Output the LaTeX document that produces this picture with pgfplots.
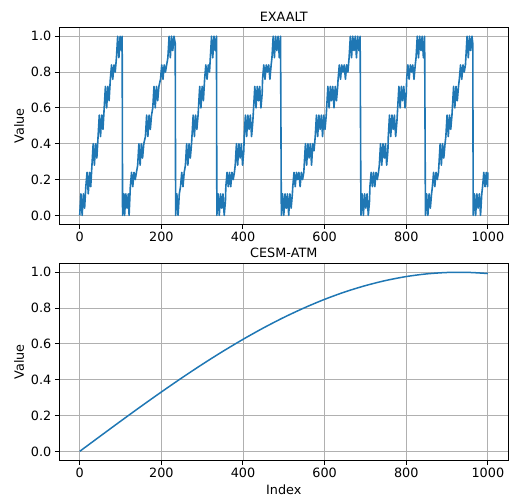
\documentclass[border=0pt]{standalone}
\usepackage{fontspec}
\setmainfont{DejaVu Sans}
\usepackage{pgfplots}
\pgfplotsset{compat=1.18}
\definecolor{mplblue}{HTML}{1F77B4}
\definecolor{gridgray}{HTML}{B0B0B0}
\newcommand{\fs}{\fontsize{12.8bp}{15bp}\selectfont}
\begin{document}
\begin{tikzpicture}
\pgfplotsset{
  panel/.style={
    width=449bp, height=197bp, scale only axis,
    xmin=-50, xmax=1050, ymin=-0.05, ymax=1.05,
    xtick={0,200,400,600,800,1000},
    ytick={0,0.2,0.4,0.6,0.8,1.0},
    xticklabel style={/pgf/number format/.cd,1000 sep={}},
    yticklabel style={/pgf/number format/.cd,fixed,fixed zerofill,precision=1},
    /pgf/number format/assume math mode=true,
    grid=major, grid style={color=gridgray, line width=0.8bp},
    tick align=outside, major tick length=4.5bp,
    xtick pos=lower, ytick pos=left,
    tick style={black, line width=1bp},
    axis line style={line width=1bp},
    ticklabel style={font=\fs},
    label style={font=\fs},
    every axis title shift=0pt,
    title style={font=\fs, at={(0.5,1)}, anchor=base, yshift=5.6bp},
    xlabel style={at={(0.5,0)}, anchor=base, yshift=-34.5bp},
    ylabel={Value},
  }
}
\useasboundingbox (-59.3bp,-272.7bp) rectangle (449.7bp,224.3bp);
\begin{axis}[panel, at={(0bp,0bp)}, title={EXAALT}]
\addplot[mplblue, line width=1.6bp, line join=round] coordinates {
(0,0)(3,0.12)(6,0)(9,0.12)(12,0.04)
(15,0.16)(18,0.24)(21,0.12)(24,0.24)(27,0.16)
(30,0.28)(33,0.40)(36,0.28)(39,0.40)(42,0.32)
(45,0.44)(48,0.56)(51,0.44)(54,0.56)(57,0.48)
(60,0.60)(63,0.72)(66,0.60)(69,0.72)(72,0.64)
(75,0.76)(78,0.84)(81,0.76)(84,0.84)(87,0.80)
(90,0.88)(93,1.0)(96,0.88)(99,1.0)(102,0.92)(104,1.0)
(105,0)(108,0.12)(110,0)(113,0.12)(116,0.04)(119,0.12)(121,0)
(124,0.16)(127,0.24)(130,0.16)(133,0.24)(136,0.2)(139,0.24)
(142,0.28)(145,0.40)(148,0.28)(151,0.40)(154,0.32)(157,0.40)
(161,0.44)(164,0.56)(167,0.44)(170,0.56)(173,0.48)(176,0.56)
(179,0.60)(182,0.72)(185,0.60)(188,0.72)(191,0.64)(194,0.72)
(198,0.76)(201,0.84)(204,0.76)(207,0.84)(210,0.80)(213,0.84)
(216,0.88)(219,1.0)(222,0.88)(225,1.0)(228,0.92)(231,1.0)(234,0.96)
(235,0)(238,0.12)(241,0)(244,0.12)
(247,0.16)(250,0.24)(253,0.16)(256,0.24)
(259,0.28)(262,0.40)(265,0.28)(268,0.40)(271,0.32)(274,0.40)
(275,0.44)(278,0.56)(281,0.44)(284,0.56)(287,0.48)(290,0.56)
(291,0.60)(294,0.72)(297,0.60)(300,0.72)(303,0.64)
(306,0.76)(309,0.84)(312,0.76)(315,0.84)(318,0.80)
(320,0.88)(323,1.0)(326,0.88)(329,1.0)(332,0.92)(335,1.0)
(336,0)(339,0.12)(342,0)(345,0.12)(348,0.04)(351,0.12)(354,0)(357,0.08)
(358,0.16)(361,0.24)(364,0.16)(367,0.24)(370,0.16)(373,0.24)(376,0.2)(379,0.24)
(381,0.28)(384,0.40)(387,0.28)(390,0.40)(393,0.32)(396,0.40)(399,0.28)(402,0.36)
(403,0.44)(406,0.56)(409,0.44)(412,0.56)(415,0.48)(418,0.56)(421,0.44)(424,0.52)
(426,0.60)(429,0.72)(432,0.60)(435,0.72)(438,0.64)(441,0.72)(444,0.60)(447,0.68)
(448,0.76)(451,0.84)(454,0.76)(457,0.84)(460,0.80)(463,0.84)(466,0.76)(469,0.84)
(471,0.88)(474,1.0)(477,0.88)(480,1.0)(483,0.92)(486,1.0)(489,0.88)(492,1.0)
(494,0)(497,0.12)(500,0)(503,0.12)(506,0.04)(509,0.12)(512,0)(515,0.12)(518,0.04)(521,0.12)
(522,0.16)(525,0.24)(528,0.16)(531,0.24)(534,0.2)(537,0.24)(540,0.16)(543,0.24)(546,0.2)(549,0.24)
(550,0.28)(553,0.40)(556,0.28)(559,0.40)(562,0.32)(565,0.40)(568,0.28)(571,0.40)(574,0.36)
(577,0.44)(580,0.56)(583,0.44)(586,0.56)(589,0.48)(592,0.56)(595,0.44)(598,0.56)(601,0.48)(604,0.56)
(605,0.60)(608,0.72)(611,0.60)(614,0.72)(617,0.64)(620,0.72)(623,0.60)(626,0.72)(629,0.64)(632,0.72)
(633,0.76)(636,0.84)(639,0.76)(642,0.84)(645,0.80)(648,0.84)(651,0.76)(654,0.84)(657,0.80)
(660,0.88)(663,1.0)(666,0.88)(669,1.0)(672,0.92)(675,1.0)(678,0.88)(681,1.0)(684,0.92)(687,1.0)
(689,0)(692,0.12)(695,0)(698,0.12)(701,0.04)(704,0.12)(707,0)(710,0.08)
(711,0.16)(714,0.24)(717,0.16)(720,0.24)(723,0.16)(726,0.24)(729,0.2)(732,0.24)
(734,0.28)(737,0.40)(740,0.28)(743,0.40)(746,0.32)(749,0.40)(752,0.28)(755,0.36)
(756,0.44)(759,0.56)(762,0.44)(765,0.56)(768,0.48)(771,0.56)(774,0.44)(777,0.52)
(779,0.60)(782,0.72)(785,0.60)(788,0.72)(791,0.64)(794,0.72)(797,0.60)(800,0.68)
(801,0.76)(804,0.84)(807,0.76)(810,0.84)(813,0.80)(816,0.84)(819,0.76)(822,0.84)
(824,0.88)(827,1.0)(830,0.88)(833,1.0)(836,0.92)(839,1.0)(842,0.88)(845,1.0)
(847,0)(850,0.12)(853,0)(856,0.12)(859,0.04)(862,0.12)
(864,0.16)(867,0.24)(870,0.16)(873,0.24)(876,0.2)(879,0.24)
(880,0.28)(883,0.40)(886,0.28)(889,0.40)(892,0.32)(895,0.40)
(897,0.44)(900,0.56)(903,0.44)(906,0.56)(909,0.48)(912,0.56)
(913,0.60)(916,0.72)(919,0.60)(922,0.72)(925,0.64)(928,0.72)
(930,0.76)(933,0.84)(936,0.76)(939,0.84)(942,0.80)(945,0.84)
(946,0.88)(949,1.0)(952,0.88)(955,1.0)(958,0.92)(961,1.0)(963,0.96)
(964,0)(967,0.12)(970,0)(973,0.12)(976,0.04)(979,0.12)(982,0)(985,0.12)
(987,0.16)(990,0.24)(993,0.16)(996,0.24)(999,0.16)(1000,0.24)
};
\end{axis}
\begin{axis}[panel, at={(0bp,-236bp)}, title={CESM-ATM}, xlabel={Index}]
\addplot[mplblue, line width=1.5bp, smooth] coordinates {
(0,0)(50,0.0843)(100,0.1681)(150,0.2507)(200,0.3314)(250,0.4099)
(300,0.4854)(350,0.5574)(400,0.6253)(450,0.6890)(500,0.7477)
(550,0.8010)(600,0.8488)(650,0.8904)(700,0.9254)(750,0.9541)
(800,0.9760)(850,0.9909)(900,0.9987)(950,0.9994)(1000,0.9930)
};
\end{axis}
\end{tikzpicture}
\end{document}
